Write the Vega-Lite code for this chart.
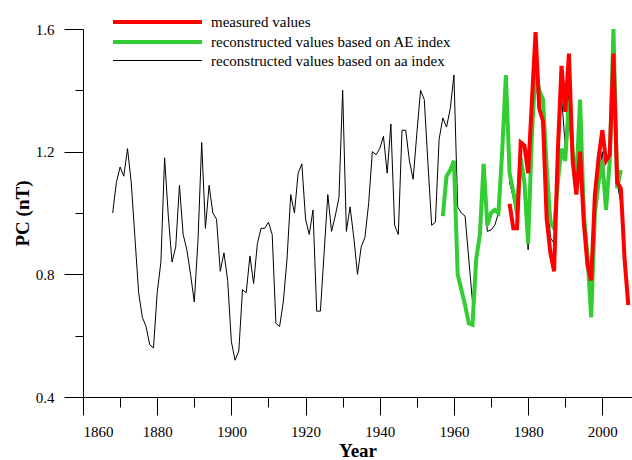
{
  "$schema": "https://vega.github.io/schema/vega-lite/v6.json",
  "width": 549,
  "height": 368,
  "autosize": {"type": "none"},
  "padding": {"left": 83, "top": 29, "right": 0, "bottom": 63},
  "background": "white",
  "config": {
    "view": {"stroke": null},
    "axis": {
      "grid": false,
      "domainColor": "black",
      "tickColor": "black",
      "domainWidth": 1,
      "tickWidth": 1,
      "labelFont": "Liberation Serif",
      "labelFontSize": 15,
      "labelColor": "black",
      "titleFont": "Liberation Serif",
      "titleFontSize": 19,
      "titleFontWeight": "bold",
      "titleColor": "black"
    },
    "legend": {
      "labelFont": "Liberation Serif",
      "labelFontSize": 15,
      "labelColor": "black",
      "labelLimit": 400
    }
  },
  "data": {
    "values": [
      {"series": "aa", "year": 1868, "pc": 1.00},
      {"series": "aa", "year": 1869, "pc": 1.10},
      {"series": "aa", "year": 1870, "pc": 1.15},
      {"series": "aa", "year": 1871, "pc": 1.12},
      {"series": "aa", "year": 1872, "pc": 1.21},
      {"series": "aa", "year": 1873, "pc": 1.10},
      {"series": "aa", "year": 1874, "pc": 0.92},
      {"series": "aa", "year": 1875, "pc": 0.74},
      {"series": "aa", "year": 1876, "pc": 0.66},
      {"series": "aa", "year": 1877, "pc": 0.63},
      {"series": "aa", "year": 1878, "pc": 0.57},
      {"series": "aa", "year": 1879, "pc": 0.56},
      {"series": "aa", "year": 1880, "pc": 0.74},
      {"series": "aa", "year": 1881, "pc": 0.84},
      {"series": "aa", "year": 1882, "pc": 1.18},
      {"series": "aa", "year": 1883, "pc": 0.99},
      {"series": "aa", "year": 1884, "pc": 0.84},
      {"series": "aa", "year": 1885, "pc": 0.89},
      {"series": "aa", "year": 1886, "pc": 1.09},
      {"series": "aa", "year": 1887, "pc": 0.93},
      {"series": "aa", "year": 1888, "pc": 0.88},
      {"series": "aa", "year": 1889, "pc": 0.80},
      {"series": "aa", "year": 1890, "pc": 0.71},
      {"series": "aa", "year": 1891, "pc": 0.91},
      {"series": "aa", "year": 1892, "pc": 1.23},
      {"series": "aa", "year": 1893, "pc": 0.95},
      {"series": "aa", "year": 1894, "pc": 1.09},
      {"series": "aa", "year": 1895, "pc": 1.00},
      {"series": "aa", "year": 1896, "pc": 0.98},
      {"series": "aa", "year": 1897, "pc": 0.81},
      {"series": "aa", "year": 1898, "pc": 0.87},
      {"series": "aa", "year": 1899, "pc": 0.78},
      {"series": "aa", "year": 1900, "pc": 0.58},
      {"series": "aa", "year": 1901, "pc": 0.52},
      {"series": "aa", "year": 1902, "pc": 0.55},
      {"series": "aa", "year": 1903, "pc": 0.75},
      {"series": "aa", "year": 1904, "pc": 0.74},
      {"series": "aa", "year": 1905, "pc": 0.86},
      {"series": "aa", "year": 1906, "pc": 0.77},
      {"series": "aa", "year": 1907, "pc": 0.90},
      {"series": "aa", "year": 1908, "pc": 0.95},
      {"series": "aa", "year": 1909, "pc": 0.95},
      {"series": "aa", "year": 1910, "pc": 0.97},
      {"series": "aa", "year": 1911, "pc": 0.93},
      {"series": "aa", "year": 1912, "pc": 0.64},
      {"series": "aa", "year": 1913, "pc": 0.63},
      {"series": "aa", "year": 1914, "pc": 0.71},
      {"series": "aa", "year": 1915, "pc": 0.85},
      {"series": "aa", "year": 1916, "pc": 1.06},
      {"series": "aa", "year": 1917, "pc": 1.00},
      {"series": "aa", "year": 1918, "pc": 1.13},
      {"series": "aa", "year": 1919, "pc": 1.16},
      {"series": "aa", "year": 1920, "pc": 0.98},
      {"series": "aa", "year": 1921, "pc": 0.93},
      {"series": "aa", "year": 1922, "pc": 1.01},
      {"series": "aa", "year": 1923, "pc": 0.68},
      {"series": "aa", "year": 1924, "pc": 0.68},
      {"series": "aa", "year": 1925, "pc": 0.87},
      {"series": "aa", "year": 1926, "pc": 1.06},
      {"series": "aa", "year": 1927, "pc": 0.94},
      {"series": "aa", "year": 1928, "pc": 0.99},
      {"series": "aa", "year": 1929, "pc": 1.05},
      {"series": "aa", "year": 1930, "pc": 1.40},
      {"series": "aa", "year": 1931, "pc": 0.94},
      {"series": "aa", "year": 1932, "pc": 1.02},
      {"series": "aa", "year": 1933, "pc": 0.92},
      {"series": "aa", "year": 1934, "pc": 0.80},
      {"series": "aa", "year": 1935, "pc": 0.89},
      {"series": "aa", "year": 1936, "pc": 0.92},
      {"series": "aa", "year": 1937, "pc": 1.03},
      {"series": "aa", "year": 1938, "pc": 1.20},
      {"series": "aa", "year": 1939, "pc": 1.19},
      {"series": "aa", "year": 1940, "pc": 1.21},
      {"series": "aa", "year": 1941, "pc": 1.25},
      {"series": "aa", "year": 1942, "pc": 1.13},
      {"series": "aa", "year": 1943, "pc": 1.29},
      {"series": "aa", "year": 1944, "pc": 0.96},
      {"series": "aa", "year": 1945, "pc": 0.93},
      {"series": "aa", "year": 1946, "pc": 1.27},
      {"series": "aa", "year": 1947, "pc": 1.27},
      {"series": "aa", "year": 1948, "pc": 1.17},
      {"series": "aa", "year": 1949, "pc": 1.11},
      {"series": "aa", "year": 1950, "pc": 1.26},
      {"series": "aa", "year": 1951, "pc": 1.40},
      {"series": "aa", "year": 1952, "pc": 1.37},
      {"series": "aa", "year": 1953, "pc": 1.16},
      {"series": "aa", "year": 1954, "pc": 0.96},
      {"series": "aa", "year": 1955, "pc": 0.97},
      {"series": "aa", "year": 1956, "pc": 1.24},
      {"series": "aa", "year": 1957, "pc": 1.31},
      {"series": "aa", "year": 1958, "pc": 1.28},
      {"series": "aa", "year": 1959, "pc": 1.34},
      {"series": "aa", "year": 1960, "pc": 1.45},
      {"series": "aa", "year": 1961, "pc": 1.02},
      {"series": "aa", "year": 1962, "pc": 1.00},
      {"series": "aa", "year": 1963, "pc": 0.99},
      {"series": "aa", "year": 1964, "pc": 0.85},
      {"series": "aa", "year": 1965, "pc": 0.71},
      {"series": "aa", "year": 1966, "pc": 0.86},
      {"series": "aa", "year": 1967, "pc": 0.95},
      {"series": "aa", "year": 1968, "pc": 1.10},
      {"series": "aa", "year": 1969, "pc": 0.94},
      {"series": "aa", "year": 1970, "pc": 0.945},
      {"series": "aa", "year": 1971, "pc": 0.96},
      {"series": "aa", "year": 1972, "pc": 1.00},
      {"series": "aa", "year": 1973, "pc": 1.18},
      {"series": "aa", "year": 1974, "pc": 1.40},
      {"series": "aa", "year": 1975, "pc": 1.10},
      {"series": "aa", "year": 1976, "pc": 1.05},
      {"series": "aa", "year": 1977, "pc": 0.98},
      {"series": "aa", "year": 1978, "pc": 1.15},
      {"series": "aa", "year": 1979, "pc": 1.08},
      {"series": "aa", "year": 1980, "pc": 0.88},
      {"series": "aa", "year": 1981, "pc": 1.25},
      {"series": "aa", "year": 1982, "pc": 1.45},
      {"series": "aa", "year": 1983, "pc": 1.33},
      {"series": "aa", "year": 1984, "pc": 1.30},
      {"series": "aa", "year": 1985, "pc": 1.10},
      {"series": "aa", "year": 1986, "pc": 0.92},
      {"series": "aa", "year": 1987, "pc": 0.90},
      {"series": "aa", "year": 1988, "pc": 1.12},
      {"series": "aa", "year": 1989, "pc": 1.38},
      {"series": "aa", "year": 1990, "pc": 1.22},
      {"series": "aa", "year": 1991, "pc": 1.40},
      {"series": "aa", "year": 1992, "pc": 1.16},
      {"series": "aa", "year": 1993, "pc": 1.08},
      {"series": "aa", "year": 1994, "pc": 1.30},
      {"series": "aa", "year": 1995, "pc": 0.95},
      {"series": "aa", "year": 1996, "pc": 0.84},
      {"series": "aa", "year": 1997, "pc": 0.75},
      {"series": "aa", "year": 1998, "pc": 1.02},
      {"series": "aa", "year": 1999, "pc": 1.12},
      {"series": "aa", "year": 2000, "pc": 1.20},
      {"series": "aa", "year": 2001, "pc": 1.05},
      {"series": "aa", "year": 2002, "pc": 1.15},
      {"series": "aa", "year": 2003, "pc": 1.50},
      {"series": "aa", "year": 2004, "pc": 1.10},
      {"series": "aa", "year": 2005, "pc": 1.03},

      {"series": "AE", "year": 1957, "pc": 0.99},
      {"series": "AE", "year": 1958, "pc": 1.12},
      {"series": "AE", "year": 1959, "pc": 1.14},
      {"series": "AE", "year": 1960, "pc": 1.17},
      {"series": "AE", "year": 1961, "pc": 0.80},
      {"series": "AE", "year": 1962, "pc": 0.75},
      {"series": "AE", "year": 1963, "pc": 0.70},
      {"series": "AE", "year": 1964, "pc": 0.64},
      {"series": "AE", "year": 1965, "pc": 0.635},
      {"series": "AE", "year": 1966, "pc": 0.85},
      {"series": "AE", "year": 1967, "pc": 0.93},
      {"series": "AE", "year": 1968, "pc": 1.16},
      {"series": "AE", "year": 1969, "pc": 0.96},
      {"series": "AE", "year": 1970, "pc": 1.00},
      {"series": "AE", "year": 1971, "pc": 1.01},
      {"series": "AE", "year": 1972, "pc": 1.00},
      {"series": "AE", "year": 1973, "pc": 1.20},
      {"series": "AE", "year": 1974, "pc": 1.45},
      {"series": "AE", "year": 1975, "pc": 1.13},
      {"series": "AE", "year": 1976, "pc": 1.07},
      {"series": "AE", "year": 1977, "pc": 1.00},
      {"series": "AE", "year": 1978, "pc": 1.18},
      {"series": "AE", "year": 1979, "pc": 1.10},
      {"series": "AE", "year": 1980, "pc": 0.90},
      {"series": "AE", "year": 1981, "pc": 1.25},
      {"series": "AE", "year": 1982, "pc": 1.47},
      {"series": "AE", "year": 1983, "pc": 1.40},
      {"series": "AE", "year": 1984, "pc": 1.37},
      {"series": "AE", "year": 1985, "pc": 1.15},
      {"series": "AE", "year": 1986, "pc": 0.97},
      {"series": "AE", "year": 1987, "pc": 0.95},
      {"series": "AE", "year": 1988, "pc": 1.10},
      {"series": "AE", "year": 1989, "pc": 1.21},
      {"series": "AE", "year": 1990, "pc": 1.17},
      {"series": "AE", "year": 1991, "pc": 1.37},
      {"series": "AE", "year": 1992, "pc": 1.20},
      {"series": "AE", "year": 1993, "pc": 1.10},
      {"series": "AE", "year": 1994, "pc": 1.37},
      {"series": "AE", "year": 1995, "pc": 1.00},
      {"series": "AE", "year": 1996, "pc": 0.86},
      {"series": "AE", "year": 1997, "pc": 0.66},
      {"series": "AE", "year": 1998, "pc": 1.00},
      {"series": "AE", "year": 1999, "pc": 1.10},
      {"series": "AE", "year": 2000, "pc": 1.17},
      {"series": "AE", "year": 2001, "pc": 1.01},
      {"series": "AE", "year": 2002, "pc": 1.17},
      {"series": "AE", "year": 2003, "pc": 1.60},
      {"series": "AE", "year": 2004, "pc": 1.08},
      {"series": "AE", "year": 2005, "pc": 1.14},

      {"series": "measured", "year": 1975, "pc": 1.03},
      {"series": "measured", "year": 1976, "pc": 0.95},
      {"series": "measured", "year": 1977, "pc": 0.95},
      {"series": "measured", "year": 1978, "pc": 1.23},
      {"series": "measured", "year": 1979, "pc": 1.22},
      {"series": "measured", "year": 1980, "pc": 1.13},
      {"series": "measured", "year": 1981, "pc": 1.36},
      {"series": "measured", "year": 1982, "pc": 1.59},
      {"series": "measured", "year": 1983, "pc": 1.34},
      {"series": "measured", "year": 1984, "pc": 1.30},
      {"series": "measured", "year": 1985, "pc": 0.98},
      {"series": "measured", "year": 1986, "pc": 0.87},
      {"series": "measured", "year": 1987, "pc": 0.81},
      {"series": "measured", "year": 1988, "pc": 1.20},
      {"series": "measured", "year": 1989, "pc": 1.48},
      {"series": "measured", "year": 1990, "pc": 1.33},
      {"series": "measured", "year": 1991, "pc": 1.52},
      {"series": "measured", "year": 1992, "pc": 1.17},
      {"series": "measured", "year": 1993, "pc": 1.06},
      {"series": "measured", "year": 1994, "pc": 1.20},
      {"series": "measured", "year": 1995, "pc": 0.97},
      {"series": "measured", "year": 1996, "pc": 0.83},
      {"series": "measured", "year": 1997, "pc": 0.78},
      {"series": "measured", "year": 1998, "pc": 1.06},
      {"series": "measured", "year": 1999, "pc": 1.18},
      {"series": "measured", "year": 2000, "pc": 1.27},
      {"series": "measured", "year": 2001, "pc": 1.17},
      {"series": "measured", "year": 2002, "pc": 1.19},
      {"series": "measured", "year": 2003, "pc": 1.52},
      {"series": "measured", "year": 2004, "pc": 1.10},
      {"series": "measured", "year": 2005, "pc": 1.08},
      {"series": "measured", "year": 2006, "pc": 0.85},
      {"series": "measured", "year": 2007, "pc": 0.70}
    ]
  },
  "encoding": {
    "x": {
      "field": "year",
      "type": "quantitative",
      "scale": {"domain": [1860, 2008], "nice": false, "zero": false},
      "axis": {
        "title": "Year",
        "values": [1860, 1870, 1880, 1890, 1900, 1910, 1920, 1930, 1940, 1950, 1960, 1970, 1980, 1990, 2000],
        "format": "d",
        "labelExpr": "datum.value % 20 === 0 ? datum.label : ''",
        "labelOverlap": false,
        "tickSize": {"condition": {"test": "datum.value % 20 === 0", "value": 18}, "value": 10},
        "labelPadding": 9,
        "titlePadding": 2
      }
    },
    "y": {
      "field": "pc",
      "type": "quantitative",
      "scale": {"domain": [0.4, 1.6], "nice": false, "zero": false},
      "axis": {
        "title": "PC (nT)",
        "values": [0.4, 0.6, 0.8, 1.0, 1.2, 1.4, 1.6],
        "format": ".1f",
        "labelExpr": "round(datum.value * 10) % 4 === 0 ? datum.label : ''",
        "labelOverlap": false,
        "tickSize": {"condition": {"test": "round(datum.value * 10) % 4 === 0", "value": 19}, "value": 8},
        "labelPadding": 10,
        "titlePadding": 3
      }
    },
    "color": {
      "field": "series",
      "type": "nominal",
      "scale": {
        "domain": ["measured", "AE", "aa"],
        "range": ["#ff0000", "#32cd32", "#000000"]
      },
      "legend": {
        "title": null,
        "orient": "none",
        "legendX": 19.5,
        "legendY": -17.5,
        "symbolType": "M0,0H10.47",
        "symbolSize": 289,
        "labelOffset": 87.5,
        "rowPadding": 1,
        "labelExpr": "datum.value === 'measured' ? 'measured values' : datum.value === 'AE' ? 'reconstructed values based on AE index' : 'reconstructed values based on aa index'"
      }
    },
    "strokeWidth": {
      "field": "series",
      "type": "nominal",
      "scale": {"type": "ordinal", "domain": ["measured", "AE", "aa"], "range": [4, 4, 1]},
      "legend": {
        "title": null,
        "orient": "none",
        "legendX": 19.5,
        "legendY": -17.5,
        "symbolType": "M0,0H10.47",
        "symbolSize": 289,
        "labelOffset": 87.5,
        "rowPadding": 1,
        "labelExpr": "datum.value === 'measured' ? 'measured values' : datum.value === 'AE' ? 'reconstructed values based on AE index' : 'reconstructed values based on aa index'"
      }
    }
  },
  "layer": [
    {"transform": [{"filter": "datum.series === 'aa'"}], "mark": {"type": "line", "strokeJoin": "miter"}},
    {"transform": [{"filter": "datum.series === 'AE'"}], "mark": {"type": "line", "strokeJoin": "miter"}},
    {"transform": [{"filter": "datum.series === 'measured'"}], "mark": {"type": "line", "strokeJoin": "miter"}}
  ]
}
